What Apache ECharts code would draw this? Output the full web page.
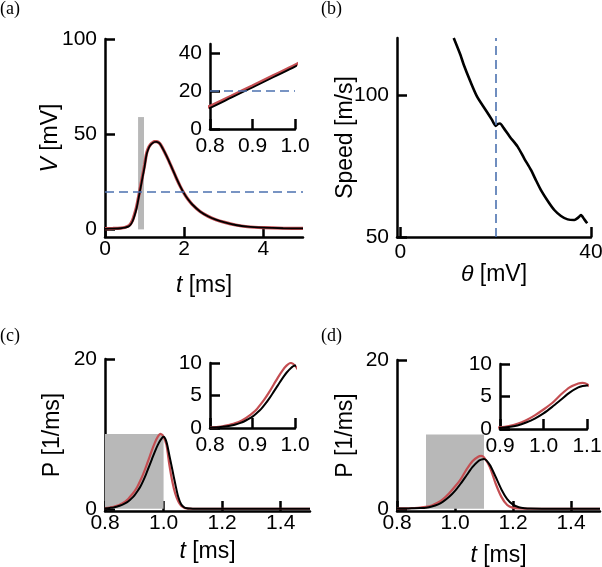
<!DOCTYPE html>
<html><head><meta charset="utf-8">
<script src="https://cdn.jsdelivr.net/npm/echarts@6/dist/echarts.min.js"></script>
<style>html,body{margin:0;padding:0;background:#fff}#c{width:602px;height:567px}</style>
</head><body><div id="c"></div>
<script>
// ---- Panel (a): membrane potential ----
const tA = [0, 0.2, 0.4, 0.5, 0.6, 0.65, 0.7, 0.75, 0.8, 0.85, 0.9, 0.95, 1.0, 1.05, 1.1, 1.15, 1.2, 1.25, 1.3, 1.35, 1.4, 1.5, 1.6, 1.7, 1.8, 1.9, 2.0, 2.1, 2.2, 2.4, 2.6, 2.8, 3.0, 3.3, 3.6, 4.0, 4.5, 5.0];
const vBlackA = [0.3, 0.4, 0.6, 0.9, 1.6, 2.6, 4.4, 7.4, 11.2, 16.6, 22.0, 27.5, 33.0, 39.3, 42.5, 44.3, 45.3, 45.9, 46.0, 45.6, 44.6, 40.8, 36.5, 31.8, 27.0, 22.6, 18.8, 15.7, 13.2, 9.4, 6.9, 5.1, 3.8, 2.3, 1.4, 0.9, 0.6, 0.5];
const vRedA = [0.4, 0.5, 0.7, 1.0, 1.9, 3.0, 5.0, 8.2, 12.1, 17.4, 22.8, 28.3, 33.8, 39.9, 42.9, 44.6, 45.5, 46.1, 46.1, 45.7, 44.6, 40.8, 36.5, 31.8, 27.0, 22.6, 18.8, 15.7, 13.2, 9.4, 6.9, 5.1, 3.8, 2.3, 1.4, 0.9, 0.6, 0.5];
const thresholdA = 20;
const shadeA = [0.835, 0.985, 0, 59];

// ---- Panel (b): speed vs threshold ----
const thetaB = [11.2, 12.6, 13.3, 14.7, 16.1, 17.9, 19.2, 20.0, 20.5, 20.9, 21.7, 23.0, 24.6, 26.0, 27.4, 28.5, 29.5, 31.0, 32.3, 33.7, 35.1, 36.5, 37.3, 37.9, 38.6, 39.2];
const speedB = [120, 114.1, 110.6, 104.7, 99.4, 94.7, 91.3, 89.1, 89.8, 89.9, 88.3, 85.2, 81.8, 77.6, 73.6, 69.8, 66.5, 62.5, 59.5, 57.4, 56.2, 56.0, 56.8, 57.7, 56.2, 54.8];
const thresholdB = 20;

// ---- Panel (c) ----
const tC = [0.80, 0.81, 0.82, 0.83, 0.84, 0.85, 0.86, 0.87, 0.88, 0.89, 0.90, 0.91, 0.92, 0.93, 0.94, 0.95, 0.96, 0.97, 0.98, 0.99, 1.00, 1.01, 1.02, 1.03, 1.04, 1.05, 1.06, 1.07, 1.08, 1.09, 1.10, 1.2, 1.3, 1.4, 1.5];
const pBlackC = [0.05, 0.08, 0.12, 0.18, 0.27, 0.4, 0.55, 0.75, 1.0, 1.35, 1.75, 2.3, 2.9, 3.7, 4.6, 5.6, 6.6, 7.6, 8.5, 9.2, 9.6, 8.9, 7.1, 5.2, 3.3, 1.6, 0.6, 0.2, 0.06, 0.02, 0, 0, 0, 0, 0];
const pRedC = [0.08, 0.12, 0.18, 0.27, 0.4, 0.55, 0.75, 1.0, 1.35, 1.8, 2.3, 2.9, 3.7, 4.6, 5.6, 6.7, 7.8, 8.8, 9.6, 10.0, 9.6, 8.5, 5.8, 3.6, 2.0, 1.0, 0.4, 0.15, 0.05, 0.01, 0, 0, 0, 0, 0];
const shadeC = [0.8, 1.0, 0, 10];

// ---- Panel (d) ----
const tD = [0.80, 0.82, 0.84, 0.86, 0.88, 0.90, 0.92, 0.94, 0.96, 0.98, 1.00, 1.02, 1.04, 1.06, 1.08, 1.09, 1.10, 1.12, 1.14, 1.16, 1.18, 1.20, 1.22, 1.24, 1.26, 1.3, 1.4, 1.5];
const pBlackD = [0.02, 0.03, 0.05, 0.07, 0.1, 0.15, 0.3, 0.55, 1.0, 1.6, 2.4, 3.4, 4.5, 5.6, 6.4, 6.6, 6.7, 5.9, 4.3, 2.6, 1.3, 0.55, 0.2, 0.07, 0.02, 0, 0, 0];
const pRedD = [0.03, 0.05, 0.07, 0.1, 0.15, 0.25, 0.45, 0.8, 1.35, 2.1, 3.0, 4.0, 5.3, 6.4, 7.0, 7.1, 6.9, 5.6, 3.4, 1.6, 0.5, 0.12, 0.04, 0.01, 0, 0, 0, 0];
const shadeD = [0.9, 1.1, 0, 10];

// ---- tick labels ----
const ticksAX = [0, 2, 4], ticksAY = [0, 50, 100];
const ticksAiX = [0.8, 0.9, 1.0], ticksAiY = [0, 20, 40];
const ticksBX = [0, 40], ticksBY = [50, 100];
const ticksCX = [0.8, 1.0, 1.2, 1.4], ticksCY = [0, 20];
const ticksCiX = [0.8, 0.9, 1.0], ticksCiY = [0, 5, 10];
const ticksDX = [0.8, 1.0, 1.2, 1.4], ticksDY = [0, 20];
const ticksDiX = [0.9, 1.0, 1.1], ticksDiY = [0, 5, 10];

const FONT = '"Liberation Sans", Arial, Helvetica, sans-serif';
const RED = '#c44e52', BLUE = '#4c72b0', GREY = '#b8b8b8';
const zip = (a, b) => a.map((v, i) => [v, b[i]]);
const f1 = v => Number(v).toFixed(1);
const f0 = v => String(Math.round(v));

const nameStyle = {fontSize: 23, fontFamily: FONT, color: '#000', rich: {i: {fontSize: 23, fontFamily: FONT, fontStyle: 'italic', color: '#000'}}};

function axis(kind, gi, min, max, ticks, fmt, margin, name, gap) {
  const a = {
    type: 'value', gridIndex: gi, min: min, max: max,
    position: kind === 'x' ? 'bottom' : 'left',
    axisLine: {show: true, onZero: false, lineStyle: {color: '#000', width: 2.5}},
    axisTick: {show: true, inside: true, length: 10, customValues: ticks, lineStyle: {color: '#000', width: 2.5}},
    axisLabel: {customValues: ticks, formatter: fmt, margin: margin, fontSize: 21, fontFamily: FONT, color: '#000'},
    splitLine: {show: false}
  };
  if (name) {
    a.name = name; a.nameLocation = 'middle'; a.nameGap = gap; a.nameTextStyle = nameStyle;
    a.nameMoveOverlap = false;
    if (kind === 'y') a.nameRotate = 90;
  }
  return a;
}

const grids = [
  {left: 105, top: 39, width: 198, height: 198},   // a main
  {left: 210, top: 44, width: 85, height: 85},     // a inset
  {left: 397, top: 38, width: 194, height: 199},   // b
  {left: 105, top: 359, width: 205, height: 152},  // c main
  {left: 210, top: 363, width: 85, height: 65},    // c inset
  {left: 397, top: 360, width: 203, height: 151},  // d main
  {left: 500, top: 364, width: 87, height: 65}     // d inset
].map(g => Object.assign({outerBoundsMode: 'none', containLabel: false}, g));

const xAxes = [
  axis('x', 0, 0, 5, ticksAX, f0, 2, '{i|t} [ms]', 37),
  axis('x', 1, 0.8, 1.0, ticksAiX, f1, 7),
  axis('x', 2, -0.7, 40, ticksBX, f0, 5, '{i|θ} [mV]', 26),
  axis('x', 3, 0.8, 1.5, ticksCX, f1, 2, '{i|t} [ms]', 29),
  axis('x', 4, 0.8, 1.0, ticksCiX, f1, 7),
  axis('x', 5, 0.8, 1.5, ticksDX, f1, 2, '{i|t} [ms]', 33),
  axis('x', 6, 0.9, 1.1, ticksDiX, f1, 7)
];
const yAxes = [
  axis('y', 0, -4, 100, ticksAY, f0, 8, '{i|V} [mV]', 43),
  axis('y', 1, 0, 45, ticksAiY, f0, 8),
  axis('y', 2, 50, 120, ticksBY, f0, 8, 'Speed [m/s]', 40),
  axis('y', 3, -0.3, 20, ticksCY, f0, 8, 'P [1/ms]', 41),
  axis('y', 4, 0, 10, ticksCiY, f0, 8),
  axis('y', 5, -0.3, 20, ticksDY, f0, 8, 'P [1/ms]', 40),
  axis('y', 6, 0, 10, ticksDiY, f0, 8)
];

function line(gi, data, color, width, z) {
  return {type: 'line', xAxisIndex: gi, yAxisIndex: gi, data: data, symbol: 'none', showSymbol: false,
    smooth: 0.25, lineStyle: {color: color, width: width}, z: z || 3, silent: true, clip: true};
}
function shade(gi, s) {
  return {type: 'line', xAxisIndex: gi, yAxisIndex: gi, data: [], z: 1, silent: true,
    markArea: {silent: true, itemStyle: {color: GREY, opacity: 1}, data: [[{xAxis: s[0], yAxis: s[2]}, {xAxis: s[1], yAxis: s[3]}]]}};
}
function dashed(gi, key, val) {
  const d = {}; d[key] = val;
  return {type: 'line', xAxisIndex: gi, yAxisIndex: gi, data: [], z: 2, silent: true,
    markLine: {silent: true, symbol: 'none', label: {show: false}, animation: false,
      lineStyle: {color: BLUE, width: 1.6, type: [9, 5]}, data: [d]}};
}

const series = [
  shade(0, shadeA), dashed(0, 'yAxis', thresholdA),
  line(0, zip(tA, vRedA), RED, 3.2), line(0, zip(tA, vBlackA), '#000', 1.8, 4),
  dashed(1, 'yAxis', thresholdA),
  line(1, zip(tA, vRedA), RED, 3.2), line(1, zip(tA, vBlackA), '#000', 1.8, 4),
  dashed(2, 'xAxis', thresholdB),
  line(2, zip(thetaB, speedB), '#000', 2.6, 4),
  shade(3, shadeC),
  line(3, zip(tC, pRedC), RED, 2.2), line(3, zip(tC, pBlackC), '#000', 2, 4),
  line(4, zip(tC, pRedC), RED, 2.2), line(4, zip(tC, pBlackC), '#000', 2, 4),
  shade(5, shadeD),
  line(5, zip(tD, pRedD), RED, 2.2), line(5, zip(tD, pBlackD), '#000', 2, 4),
  line(6, zip(tD, pRedD), RED, 2.2), line(6, zip(tD, pBlackD), '#000', 2, 4)
];

const panelFont = '18px "Liberation Serif", "DejaVu Serif", serif';
const graphic = [
  {type: 'text', left: 0, top: 0, style: {text: '(a)', font: panelFont, fill: '#000'}},
  {type: 'text', left: 321, top: 0, style: {text: '(b)', font: panelFont, fill: '#000'}},
  {type: 'text', left: 0, top: 327, style: {text: '(c)', font: panelFont, fill: '#000'}},
  {type: 'text', left: 321, top: 327, style: {text: '(d)', font: panelFont, fill: '#000'}}
];

const chart = echarts.init(document.getElementById('c'), null, {renderer: 'canvas'});
chart.setOption({
  animation: false,
  backgroundColor: '#fff',
  grid: grids, xAxis: xAxes, yAxis: yAxes, series: series, graphic: graphic
});
</script></body></html>
